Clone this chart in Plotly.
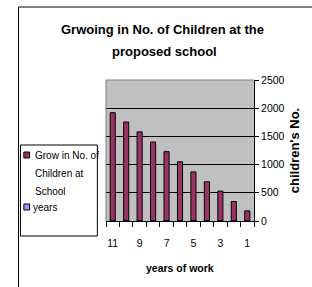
import plotly.graph_objects as go

categories = ["11", "10", "9", "8", "7", "6", "5", "4", "3", "2", "1"]
children = [1920, 1755, 1580, 1400, 1230, 1050, 870, 695, 530, 345, 180]
years = [11, 10, 9, 8, 7, 6, 5, 4, 3, 2, 1]
tick_text = ["11", "", "9", "", "7", "", "5", "", "3", "", "1"]
y_ticks = [0, 500, 1000, 1500, 2000, 2500]

W, H = 312, 287
L, R, T, B = 106, 260, 80, 221  # plot area pixel box

def px(x):
    return (x - L) / (R - L)

def py(y):
    return (B - y) / (B - T)

FONT = "Liberation Sans, Arial, sans-serif"
PLUM = "#993366"
PERI = "#9999FF"

fig = go.Figure()
fig.add_trace(go.Bar(x=categories, y=children, name="Grow in No. of Children at School",
                     marker=dict(color=PLUM, line=dict(color="black", width=1)), width=0.38))
fig.add_trace(go.Bar(x=categories, y=years, name="years",
                     marker=dict(color=PERI, line=dict(color="black", width=1)), width=0.38))

fig.update_layout(
    width=W, height=H,
    margin=dict(l=L, r=W - R, t=T, b=H - B, pad=0),
    paper_bgcolor="white", plot_bgcolor="#C0C0C0",
    barmode="overlay", showlegend=False,
    font=dict(family=FONT, size=10.5, color="black"),
)
fig.update_xaxes(
    type="category", categoryorder="array", categoryarray=categories,
    tickmode="array", tickvals=categories, ticktext=tick_text, tickangle=0,
    tickson="boundaries", ticks="outside", ticklen=5, tickcolor="black",
    showline=True, linecolor="black", linewidth=1, showgrid=False,
    ticklabelstandoff=12, tickfont=dict(size=10.5),
)
fig.update_yaxes(
    side="right", range=[0, 2500], tickvals=y_ticks,
    ticks="outside", ticklen=4, tickcolor="black",
    showline=True, linecolor="black", linewidth=1,
    showgrid=True, gridcolor="black", gridwidth=1, zeroline=False,
    tickfont=dict(size=10.5),
    title=dict(text="<b>children's No.</b>", standoff=6,
               font=dict(family=FONT, size=13, color="black")),
)

shapes = []
# plot-area top/left gray border
shapes.append(dict(type="line", xref="paper", yref="paper", x0=0, x1=1, y0=1, y1=1,
                   line=dict(color="#808080", width=1)))
shapes.append(dict(type="line", xref="paper", yref="paper", x0=0, x1=0, y0=0, y1=1,
                   line=dict(color="#808080", width=1)))
# outer chart frame
shapes.append(dict(type="rect", xref="paper", yref="paper", x0=px(15), x1=px(330),
                   y0=py(300), y1=py(7), line=dict(color="black", width=1)))
# legend box
shapes.append(dict(type="rect", xref="paper", yref="paper", x0=px(17), x1=px(97),
                   y0=py(236), y1=py(145), line=dict(color="black", width=1),
                   fillcolor="white", layer="above"))
# legend swatches
shapes.append(dict(type="rect", xref="paper", yref="paper", x0=px(20.5), x1=px(26.5),
                   y0=py(158), y1=py(152), line=dict(color="black", width=1),
                   fillcolor=PLUM))
shapes.append(dict(type="rect", xref="paper", yref="paper", x0=px(20.5), x1=px(26.5),
                   y0=py(210), y1=py(204), line=dict(color="black", width=1),
                   fillcolor=PERI))
fig.update_layout(shapes=shapes)

ann = []
def text(t, x, y, size, bold=False, xanchor="center", angle=0):
    ann.append(dict(text=("<b>%s</b>" % t) if bold else t, x=px(x), y=py(y),
                    xref="paper", yref="paper", showarrow=False,
                    xanchor=xanchor, yanchor="middle", textangle=angle,
                    font=dict(family=FONT, size=size, color="black")))

text("Grwoing in No. of Children at the", 165, 30, 13, bold=True)
text("proposed school", 167, 52, 13, bold=True)
text("years of work", 183, 268, 10.5, bold=True)
text("Grow in No. of", 30, 155, 10, xanchor="left")
text("Children at", 30, 173, 10, xanchor="left")
text("School", 30, 191.5, 10, xanchor="left")
text("years", 28, 207, 10, xanchor="left")
fig.update_layout(annotations=ann)

fig.write_html("out.html", config={"displayModeBar": False},
               post_script="document.body.style.margin='0';document.body.style.overflow='hidden';")
